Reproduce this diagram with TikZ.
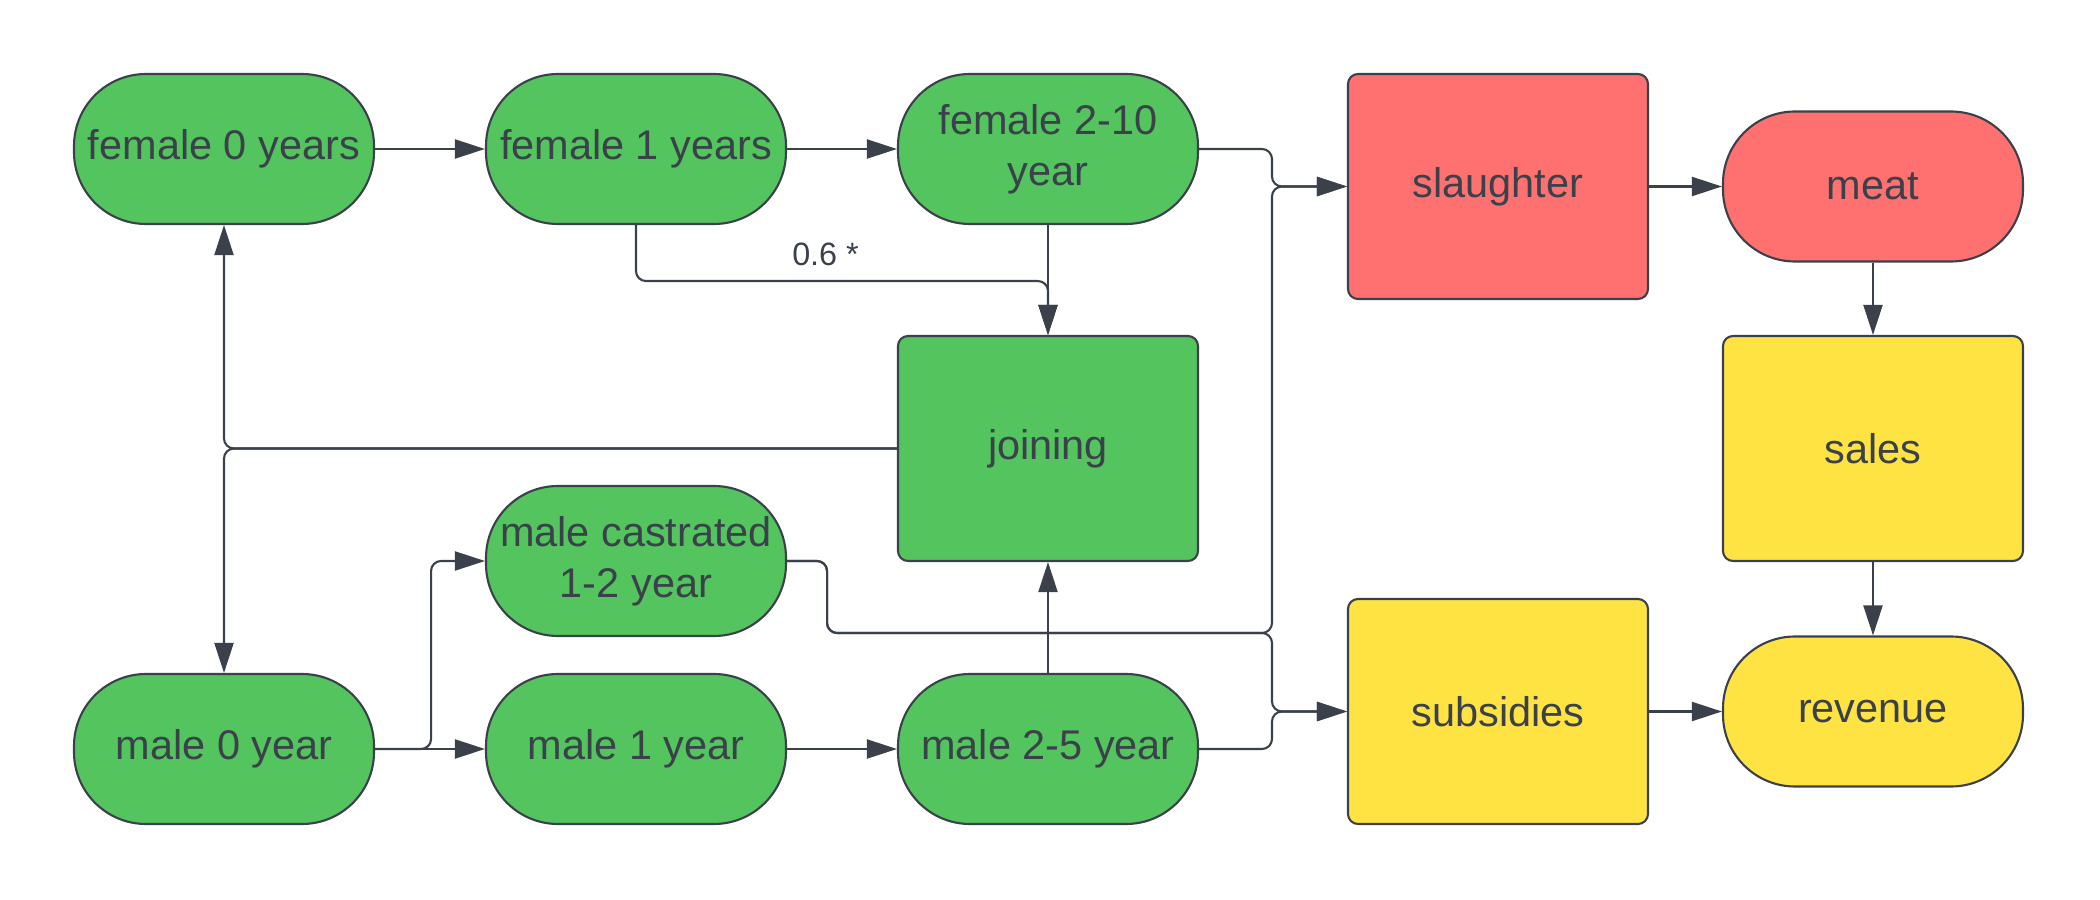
\documentclass[tikz,border=0pt]{standalone}
\usepackage{fontspec}
\setmainfont{Liberation Sans}
\usetikzlibrary{arrows.meta}
\definecolor{lucidgreen}{HTML}{54C45E}
\definecolor{lucidred}{HTML}{FF7070}
\definecolor{lucidyellow}{HTML}{FFE342}
\definecolor{lucidline}{HTML}{3A414A}
\begin{document}
\begin{tikzpicture}[
		stage/.style={draw=lucidline, line width=0.6pt, fill=lucidgreen, rounded corners=0.72cm, minimum width=3cm, minimum height=1.5cm, inner sep=0pt, align=center, text=lucidline, font=\fontsize{11.8}{14.5}\selectfont},
		block/.style={draw=lucidline, line width=0.6pt, rounded corners=0.1cm, minimum width=3cm, minimum height=2.25cm, inner sep=0pt, align=center, text=lucidline, font=\fontsize{11.8}{14.5}\selectfont},
		flow/.style={draw=lucidline, line width=0.6pt, rounded corners=0.1cm, -{Triangle[length=0.3cm, width=0.19cm]}}
	]
	\useasboundingbox (0,0) rectangle (21,9);

	% Nodes
	\node[stage] (f0) at (2.24,7.51) {female 0 years};
	\node[stage] (f1) at (6.36,7.51) {female 1 years};
	\node[stage] (f2) at (10.48,7.51) {female 2-10\\year};
	\node[block, fill=lucidgreen] (join) at (10.48,4.515) {joining};
	\node[stage] (mc) at (6.36,3.39) {male castrated\\1-2 year};
	\node[stage] (m0) at (2.24,1.51) {male 0 year};
	\node[stage] (m1) at (6.36,1.51) {male 1 year};
	\node[stage] (m2) at (10.48,1.51) {male 2-5 year};

	\node[block, fill=lucidred] (sl) at (14.98,7.135) {slaughter};
	\node[stage, fill=lucidred] (meat) at (18.73,7.135) {meat};
	\node[block, fill=lucidyellow] (sales) at (18.73,4.515) {sales};
	\node[block, fill=lucidyellow] (sub) at (14.98,1.885) {subsidies};
	\node[stage, fill=lucidyellow] (rev) at (18.73,1.885) {revenue};

	\coordinate (bus) at (12.72,2.67);

	% Connections
	\draw[flow] (f0) -- (f1);
	\draw[flow] (f1) -- (f2);
	\draw[flow] (f1.south) -- ++(0,-0.56) -| node[pos=0.23, above=0.02cm, text=lucidline, font=\fontsize{9.2}{11}\selectfont] {0.6 *} (join.north);
	\draw[flow] (f2.south) -- (join.north);
	\draw[flow] (join.west) -| (f0.south);
	\draw[flow] (join.west) -| (m0.north);
	\draw[flow] (m0) -- (m1);
	\draw[flow] (m0.east) -- ++(0.56,0) |- (mc.west);
	\draw[flow] (m1) -- (m2);
	\draw[flow] (m2.north) -- (join.south);
	\draw[flow] (f2.east) -- (bus |- f2.east) |- (sl.west);
	\draw[flow] (mc.east) -- ++(0.4,0) |- (bus) |- (sl.west);
	\draw[flow] (mc.east) -- ++(0.4,0) |- (bus) |- (sub.west);
	\draw[flow] (m2.east) -- (bus |- m2.east) |- (sub.west);
	\draw[flow] (sl) -- (meat);
	\draw[flow] (meat) -- (sales);
	\draw[flow] (sales) -- (rev);
	\draw[flow] (sub) -- (rev);
\end{tikzpicture}
\end{document}
